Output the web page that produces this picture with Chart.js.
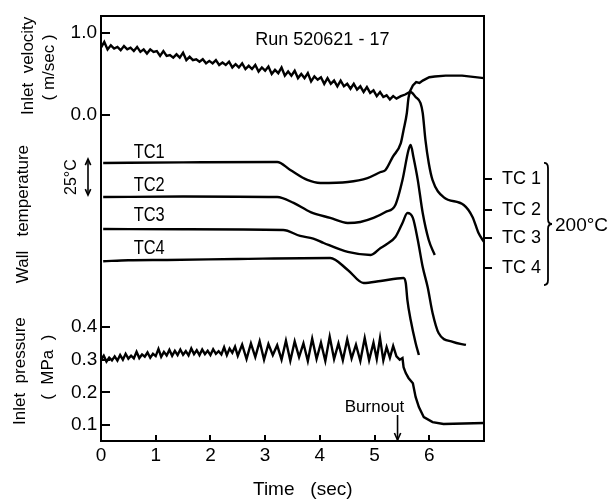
<!DOCTYPE html>
<html><head><meta charset="utf-8">
<script src="https://cdn.jsdelivr.net/npm/chart.js@4"></script>
<style>html,body{margin:0;padding:0;background:#fff}#wrap{width:611px;height:499px;position:relative}</style>
</head><body><div id="wrap"><canvas id="c"></canvas></div>
<script>
// ---------- tick labels ----------
const xTicks = [0, 1, 2, 3, 4, 5, 6];
const velTicks = [0, 1];
const presTicks = [0.1, 0.2, 0.3, 0.4];
const tcTickValues = [181.9, 160.4, 141.0, 120.1];
const tcTickLabels = ['TC 1', 'TC 2', 'TC 3', 'TC 4'];
const tcNames = ['TC1', 'TC2', 'TC3', 'TC4'];
const runLabel = 'Run 520621 - 17';
const burnoutTime = 5.42;

// ---------- inlet velocity (m/sec) ----------
const tVel = [0.00,0.06,0.12,0.18,0.24,0.30,0.36,0.42,0.48,0.54,0.60,0.66,0.72,0.78,0.84,0.90,0.96,1.02,1.08,1.14,
  1.20,1.26,1.32,1.38,1.44,1.50,1.56,1.62,1.68,1.74,1.80,1.86,1.92,1.98,2.04,2.10,2.16,2.22,2.28,2.34,
  2.40,2.46,2.52,2.58,2.64,2.70,2.76,2.82,2.88,2.94,3.00,3.06,3.12,3.18,3.24,3.30,3.36,3.42,3.48,3.54,
  3.60,3.66,3.72,3.78,3.84,3.90,3.96,4.02,4.08,4.14,4.20,4.26,4.32,4.38,4.44,4.50,4.56,4.62,4.68,4.74,
  4.80,4.86,4.92,4.98,5.04,5.10,5.16,5.22,5.28,5.34,5.40,5.48,5.56,5.64,5.70,5.76,5.82,5.88,5.94,6.00,
  6.10,6.30,6.60,7.00];
const vel = [0.82,0.89,0.80,0.85,0.81,0.83,0.79,0.84,0.80,0.82,0.78,0.83,0.77,0.80,0.75,0.80,0.77,0.78,0.72,0.78,
  0.72,0.73,0.70,0.74,0.70,0.76,0.67,0.71,0.67,0.68,0.65,0.68,0.63,0.66,0.63,0.67,0.61,0.64,0.61,0.65,
  0.58,0.62,0.58,0.63,0.56,0.60,0.56,0.61,0.53,0.58,0.54,0.59,0.50,0.55,0.51,0.58,0.48,0.53,0.48,0.54,
  0.45,0.50,0.45,0.51,0.41,0.47,0.43,0.46,0.38,0.45,0.38,0.42,0.35,0.42,0.35,0.38,0.32,0.38,0.31,0.35,
  0.28,0.34,0.27,0.30,0.23,0.28,0.22,0.24,0.19,0.23,0.20,0.23,0.25,0.28,0.36,0.40,0.39,0.42,0.44,0.46,
  0.47,0.48,0.48,0.45];

// ---------- inlet pressure (MPa) ----------
const tPres = [0.00,0.05,0.10,0.15,0.20,0.25,0.30,0.35,0.40,0.45,0.50,0.55,0.60,0.65,0.70,0.75,0.80,0.85,0.90,0.95,
  1.00,1.05,1.10,1.15,1.20,1.25,1.30,1.35,1.40,1.45,1.50,1.55,1.60,1.65,1.70,1.75,1.80,1.85,1.90,1.95,
  2.00,2.05,2.10,2.15,2.20,2.25,2.30,2.35,2.40,2.45,2.50,2.58,2.66,2.74,2.82,2.90,2.98,3.06,3.14,3.22,
  3.30,3.38,3.46,3.54,3.62,3.70,3.78,3.86,3.94,4.02,4.10,4.18,4.26,4.34,4.42,4.50,4.58,4.66,4.74,4.82,
  4.90,4.98,5.04,5.10,5.16,5.22,5.28,5.34,5.40,5.46,5.51,5.53,5.57,5.62,5.70,5.75,5.81,5.90,6.06,6.26,7.00];
const pres = [0.300,0.312,0.294,0.306,0.298,0.310,0.297,0.314,0.300,0.318,0.303,0.312,0.304,0.324,0.305,0.316,0.309,0.322,0.306,0.318,
  0.311,0.333,0.309,0.324,0.313,0.330,0.312,0.327,0.314,0.331,0.315,0.326,0.313,0.334,0.317,0.329,0.314,0.331,0.317,0.327,
  0.314,0.332,0.318,0.326,0.316,0.338,0.314,0.334,0.321,0.340,0.312,0.346,0.302,0.350,0.308,0.356,0.300,0.348,0.314,0.344,
  0.300,0.358,0.297,0.356,0.308,0.350,0.296,0.364,0.302,0.352,0.296,0.370,0.302,0.350,0.298,0.362,0.304,0.346,0.296,0.366,
  0.298,0.352,0.302,0.366,0.298,0.338,0.306,0.342,0.310,0.300,0.305,0.277,0.259,0.244,0.228,0.186,0.155,0.124,0.109,0.103,0.106];

// ---------- wall temperature traces (deg C, offset scale: 25 deg C per arrow) ----------
const tTC1 = [0.04,1.50,3.22,3.46,3.77,4.01,4.51,4.87,5.11,5.20,5.33,5.48,5.53,5.59,5.62,5.66,5.75,5.84,5.88,5.93,5.99,6.06,6.26,6.63,6.79,6.90,7.00];
const tc1  = [193.1,193.5,193.8,188.2,181.3,179.2,179.9,182.6,186.8,188.2,197.2,206.9,216.0,227.8,238.2,242.4,238.9,234.7,227.8,209.0,193.1,181.2,169.4,163.9,155.6,144.4,138.2];
const tTC2 = [0.04,1.50,3.22,3.52,3.83,4.19,4.51,4.74,4.98,5.20,5.38,5.51,5.62,5.66,5.71,5.79,5.88,5.99,6.10];
const tc2  = [169.4,169.8,169.4,165.3,159.0,154.9,151.4,152.1,154.9,159.0,163.9,181.2,202.1,205.6,197.2,181.2,158.3,139.6,129.2];
const tTC3 = [0.04,1.50,3.33,3.64,3.88,4.07,4.51,4.93,5.11,5.20,5.38,5.51,5.60,5.70,5.79,5.88,5.97,6.06,6.17,6.43,6.67];
const tc3  = [147.2,147.0,146.5,142.4,140.6,137.5,131.3,129.2,134.0,136.1,141.7,151.4,158.3,154.9,139.6,120.8,106.9,88.9,75.0,68.8,66.7];
const tTC4 = [0.04,0.50,1.21,2.50,4.19,4.51,4.80,5.11,5.53,5.57,5.60,5.66,5.75,5.81];
const tc4  = [124.8,125.5,125.7,126.4,127.1,118.8,109.7,111.1,113.2,109.7,97.9,84.0,68.1,59.7];

// ---------- annotation anchors (data units) ----------
const tcLabelTime = 0.88;
const tcLabelTemp = [200.7, 177.1, 156.3, 134.0];
const runLabelAt = [2.82, 0.92];
const scaleArrowTop = 195.8, scaleArrowSpan = 25;
const bracketTop = 193.1, bracketBottom = 108.3;

const SANS = '"Liberation Sans", Arial, Helvetica, sans-serif';
Chart.defaults.font.family = SANS;
Chart.defaults.color = '#000';

const pts = (xs, ys) => xs.map((xv, i) => ({x: xv, y: ys[i]}));
const lineStyle = {borderColor: '#000', backgroundColor: '#000', borderWidth: 2.4, pointRadius: 0, fill: false};
const noPad = s => { s.paddingTop = 0; s.paddingBottom = 0; s.paddingLeft = 0; s.paddingRight = 0; };

function arrowHead(ctx, x, y, dir, size) {
  ctx.beginPath();
  ctx.moveTo(x - size * 0.45, y - dir * size);
  ctx.lineTo(x, y);
  ctx.lineTo(x + size * 0.45, y - dir * size);
  ctx.stroke();
}

const annot = {
  id: 'annot',
  afterDraw(chart) {
    const {ctx} = chart;
    const {x, v, p, t} = chart.scales;
    ctx.save();
    ctx.fillStyle = '#000';
    ctx.strokeStyle = '#000';
    // run label
    ctx.font = '18px ' + SANS;
    ctx.textAlign = 'left';
    ctx.textBaseline = 'middle';
    ctx.fillText(runLabel, x.getPixelForValue(runLabelAt[0]), v.getPixelForValue(runLabelAt[1]));
    // TC labels on traces (condensed lettering)
    ctx.font = '20px ' + SANS;
    ctx.textAlign = 'center';
    tcNames.forEach((n, i) => {
      ctx.save();
      ctx.translate(x.getPixelForValue(tcLabelTime), t.getPixelForValue(tcLabelTemp[i]));
      ctx.scale(0.82, 1);
      ctx.fillText(n, 0, 0);
      ctx.restore();
    });
    // rotated axis titles
    const vtext = (str, cx, cy, font) => {
      ctx.save(); ctx.translate(cx, cy); ctx.rotate(-Math.PI / 2);
      ctx.font = font; ctx.textAlign = 'center'; ctx.textBaseline = 'middle';
      ctx.fillText(str, 0, 0); ctx.restore();
    };
    vtext('Inlet  velocity', 28, v.getPixelForValue(0.6), '17px ' + SANS);
    vtext('( m/sec )', 49, v.getPixelForValue(0.58), '17px ' + SANS);
    vtext('Wall   temperature', 23, t.getPixelForValue(157.6), '17px ' + SANS);
    vtext('Inlet  pressure', 20, p.getPixelForValue(0.265), '17px ' + SANS);
    vtext('(  MPa  )', 48, p.getPixelForValue(0.277), '17px ' + SANS);
    // 25 C scale arrow
    const yA = t.getPixelForValue(scaleArrowTop), yB = t.getPixelForValue(scaleArrowTop - scaleArrowSpan);
    vtext('25°C', 72, (yA + yB) / 2, '16px ' + SANS);
    ctx.lineWidth = 1.6;
    ctx.beginPath(); ctx.moveTo(88, yA); ctx.lineTo(88, yB); ctx.stroke();
    arrowHead(ctx, 88, yA, -1, 6);
    arrowHead(ctx, 88, yB, 1, 6);
    // bracket 200 C
    const bx = 547, bt = t.getPixelForValue(bracketTop), bb = t.getPixelForValue(bracketBottom), bm = (bt + bb) / 2;
    ctx.lineWidth = 1.8;
    ctx.beginPath();
    ctx.moveTo(bx - 3, bt);
    ctx.quadraticCurveTo(bx + 1, bt, bx + 1, bt + 5);
    ctx.lineTo(bx + 1, bm - 5);
    ctx.quadraticCurveTo(bx + 1, bm, bx + 5, bm);
    ctx.quadraticCurveTo(bx + 1, bm, bx + 1, bm + 5);
    ctx.lineTo(bx + 1, bb - 5);
    ctx.quadraticCurveTo(bx + 1, bb, bx - 3, bb);
    ctx.stroke();
    ctx.font = '19px ' + SANS;
    ctx.textAlign = 'left';
    ctx.textBaseline = 'middle';
    ctx.fillText('200°C', 555, bm + 2);
    // burnout arrow
    const xb = x.getPixelForValue(burnoutTime);
    const yBot = chart.chartArea.bottom;
    ctx.lineWidth = 1.6;
    ctx.beginPath(); ctx.moveTo(xb, yBot - 26); ctx.lineTo(xb, yBot - 1); ctx.stroke();
    arrowHead(ctx, xb, yBot - 1, 1, 7);
    ctx.font = '17px ' + SANS;
    ctx.textAlign = 'center';
    ctx.fillText('Burnout', xb - 23, yBot - 34);
    // x title
    ctx.font = '19px ' + SANS;
    ctx.textAlign = 'left';
    ctx.fillText('Time   (sec)', 253, 490);
    ctx.restore();
  }
};

new Chart(document.getElementById('c'), {
  type: 'line',
  data: {
    datasets: [
      Object.assign({label: 'Inlet velocity', data: pts(tVel, vel), yAxisID: 'v', tension: 0}, lineStyle),
      Object.assign({label: 'Inlet pressure', data: pts(tPres, pres), yAxisID: 'p', tension: 0}, lineStyle),
      Object.assign({label: 'TC1', data: pts(tTC1, tc1), yAxisID: 't', cubicInterpolationMode: 'monotone'}, lineStyle),
      Object.assign({label: 'TC2', data: pts(tTC2, tc2), yAxisID: 't', cubicInterpolationMode: 'monotone'}, lineStyle),
      Object.assign({label: 'TC3', data: pts(tTC3, tc3), yAxisID: 't', cubicInterpolationMode: 'monotone'}, lineStyle),
      Object.assign({label: 'TC4', data: pts(tTC4, tc4), yAxisID: 't', cubicInterpolationMode: 'monotone'}, lineStyle)
    ]
  },
  options: {
    responsive: true,
    maintainAspectRatio: false,
    animation: false,
    events: [],
    layout: {autoPadding: false, padding: {top: 16, left: 0, right: 0, bottom: 0}},
    plugins: {legend: {display: false}, tooltip: {enabled: false}},
    scales: {
      x: {
        type: 'linear', position: 'bottom', min: 0, max: 7,
        afterBuildTicks: s => { s.ticks = xTicks.map(val => ({value: val})); },
        afterFit: s => { s.height = 58; noPad(s); },
        ticks: {font: {size: 19}, color: '#000', padding: 9, autoSkip: false, maxRotation: 0, callback: val => String(val)},
        grid: {drawOnChartArea: false, tickLength: -6, color: '#000', lineWidth: 2},
        border: {color: '#000', width: 2}
      },
      xTop: {
        type: 'linear', position: 'top', display: true, min: 0, max: 7,
        afterFit: s => { s.height = 0; noPad(s); },
        ticks: {display: false},
        grid: {drawOnChartArea: false, drawTicks: false},
        border: {color: '#000', width: 2}
      },
      v: {
        type: 'linear', position: 'left', weight: 2, min: -3.9756, max: 1.2073,
        afterBuildTicks: s => { s.ticks = velTicks.map(val => ({value: val})); },
        afterFit: s => { s.width = 101; noPad(s); },
        ticks: {font: {size: 19}, color: '#000', padding: 13, callback: val => val.toFixed(1)},
        grid: {drawOnChartArea: false, tickLength: -9, color: '#000', lineWidth: 2},
        border: {color: '#000', width: 2}
      },
      p: {
        type: 'linear', position: 'left', weight: 1, min: 0.05102, max: 1.35204,
        afterBuildTicks: s => { s.ticks = presTicks.map(val => ({value: val})); },
        afterFit: s => { s.width = 0; noPad(s); },
        ticks: {font: {size: 19}, color: '#000', mirror: true, padding: -30, callback: val => val.toFixed(1)},
        grid: {drawOnChartArea: false, tickLength: -9, color: '#000', lineWidth: 2},
        border: {display: false}
      },
      t: {
        type: 'linear', position: 'right', min: 0, max: 295.14,
        afterBuildTicks: s => { s.ticks = tcTickValues.map(val => ({value: val})); },
        afterFit: s => { s.width = 127; noPad(s); },
        ticks: {font: {size: 18}, color: '#000', padding: 10, callback: (val, i) => tcTickLabels[i]},
        grid: {drawOnChartArea: false, tickLength: 8, color: '#000', lineWidth: 2},
        border: {color: '#000', width: 2}
      }
    }
  },
  plugins: [annot]
});
</script>
</body></html>
